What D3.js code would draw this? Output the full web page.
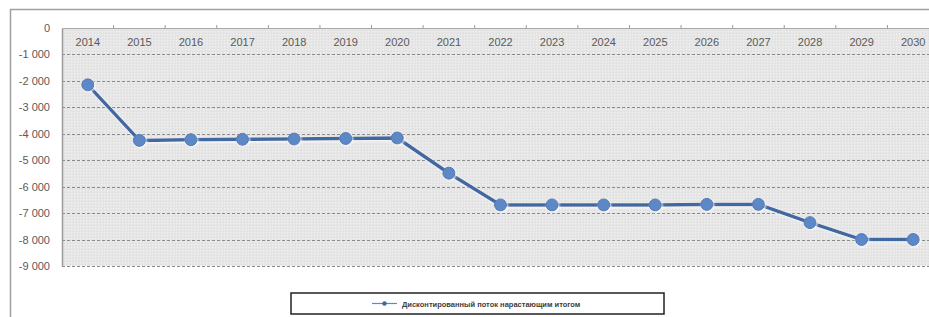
<html>
<head>
<meta charset="utf-8">
<script src="https://d3js.org/d3.v7.min.js"></script>
<style>
 body { margin:0; background:#fff; }
 text { font-family: "Liberation Sans", Arial, sans-serif; }
</style>
</head>
<body>
<svg width=929 height=317></svg>
<script>
	// data
	var years = ["2014","2015","2016","2017","2018","2019","2020","2021","2022","2023","2024","2025","2026","2027","2028","2029","2030"];
	var flow = [-2150,-4250,-4225,-4210,-4200,-4180,-4160,-5490,-6690,-6690,-6690,-6690,-6670,-6670,-7360,-8000,-8000];
	var yTicks = [0,-1000,-2000,-3000,-4000,-5000,-6000,-7000,-8000,-9000];
	var seriesName = "Дисконтированный поток нарастающим итогом";

	var margin = {top: 28, left: 62},
	    width = 877,
	    height = 238;

	var svg = d3.select("svg");

	// outer frame of chart object
	svg.append("path")
		.attr("d","M10.5,330 L10.5,9.5 L940,9.5")
		.attr("fill","none")
		.attr("stroke","#a0a0a0")
		.attr("stroke-width",1.5);

	var defs = svg.append("defs");
	var pat = defs.append("pattern")
		.attr("id","mesh")
		.attr("width",3).attr("height",3)
		.attr("patternUnits","userSpaceOnUse");
	pat.append("rect").attr("width",3).attr("height",3).attr("fill","#e6e6e6");
	pat.append("rect").attr("width",1).attr("height",1).attr("fill","#f2f2f2");
	pat.append("rect").attr("x",2).attr("y",2).attr("width",1).attr("height",1).attr("fill","#dedede");

	var glow = defs.append("filter").attr("id","glow")
		.attr("x","-60%").attr("y","-60%").attr("width","220%").attr("height","220%");
	glow.append("feGaussianBlur").attr("in","SourceAlpha").attr("stdDeviation",1.2).attr("result","b");
	glow.append("feOffset").attr("in","b").attr("dx",0.5).attr("dy",0.8).attr("result","o");
	glow.append("feFlood").attr("flood-color","#ffffff").attr("flood-opacity",0.85);
	glow.append("feComposite").attr("in2","o").attr("operator","in").attr("result","w");
	var mg = glow.append("feMerge");
	mg.append("feMergeNode").attr("in","w");
	mg.append("feMergeNode").attr("in","SourceGraphic");

	var g = svg.append("g")
		.attr("transform","translate(" + margin.left + "," + margin.top + ")");

	var x = d3.scaleBand().domain(years).range([0,width]);
	var y = d3.scaleLinear().domain([-9000,0]).range([height,0]);

	var loc = d3.formatLocale({decimal:",", thousands:"\u00a0", grouping:[3], currency:["",""], minus:"-"});
	var fmt = loc.format(",");

	g.append("rect")
		.attr("width",width).attr("height",height)
		.attr("fill","url(#mesh)");

	// dashed grid
	g.selectAll("line.grid")
		.data(yTicks.filter(function(d){ return d !== 0; }))
		.enter().append("line")
		.attr("class","grid")
		.attr("x1",0).attr("x2",width)
		.attr("y1",function(d){ return Math.round(y(d)) + 0.5; })
		.attr("y2",function(d){ return Math.round(y(d)) + 0.5; })
		.attr("stroke","#8a8a8a")
		.attr("stroke-dasharray","3,2");

	// value axis
	var yAxis = g.append("g")
		.call(d3.axisLeft(y).tickValues(yTicks).tickFormat(fmt).tickSize(0).tickPadding(12));
	yAxis.select(".domain").attr("stroke","#9a9a9a").attr("stroke-width",1.5);
	yAxis.selectAll("text").attr("fill","#5a5a5a").style("font-size","11px");

	// category axis sitting on the zero line
	var xAxis = g.append("g")
		.attr("transform","translate(0," + y(0) + ")")
		.call(d3.axisTop(x).tickSize(0).tickPadding(-18));
	xAxis.select(".domain").attr("stroke","#a8a8a8");
	xAxis.selectAll("text").attr("fill","#5a5a5a").style("font-size","11px");
	g.selectAll("line.sep")
		.data(years.slice(1))
		.enter().append("line")
		.attr("class","sep")
		.attr("x1",function(d){ return x(d); }).attr("x2",function(d){ return x(d); })
		.attr("y1",y(0) - 3).attr("y2",y(0))
		.attr("stroke","#9a9a9a");

	var line = d3.line()
		.x(function(d,i){ return x(years[i]) + x.bandwidth()/2; })
		.y(function(d){ return y(d); });

	g.append("path")
		.datum(flow)
		.attr("d",line)
		.attr("fill","none")
		.attr("stroke","#3f67a2")
		.attr("stroke-width",3.5)
		.attr("stroke-linejoin","round")
		.attr("filter","url(#glow)");

	g.selectAll("circle.pt")
		.data(flow)
		.enter().append("circle")
		.attr("class","pt")
		.attr("cx",function(d,i){ return x(years[i]) + x.bandwidth()/2; })
		.attr("cy",function(d){ return y(d); })
		.attr("r",6)
		.attr("fill","#5b88c8")
		.attr("stroke","#4c76b2")
		.attr("filter","url(#glow)");

	// legend
	var lg = svg.append("g").attr("transform","translate(291,293)");
	lg.append("rect")
		.attr("width",373).attr("height",21)
		.attr("fill","#fff").attr("stroke","#222").attr("stroke-width",1.5);
	lg.append("line")
		.attr("x1",81).attr("x2",106).attr("y1",10.5).attr("y2",10.5)
		.attr("stroke","#5b88c8").attr("stroke-width",1.2);
	lg.append("circle").attr("cx",93.5).attr("cy",10.5).attr("r",2.2).attr("fill","#3f67a2");
	lg.append("text")
		.attr("x",111).attr("y",13.5)
		.attr("fill","#404040")
		.style("font-size","7.5px")
		.style("font-weight","bold")
		.text(seriesName);
</script>
</body>
</html>
